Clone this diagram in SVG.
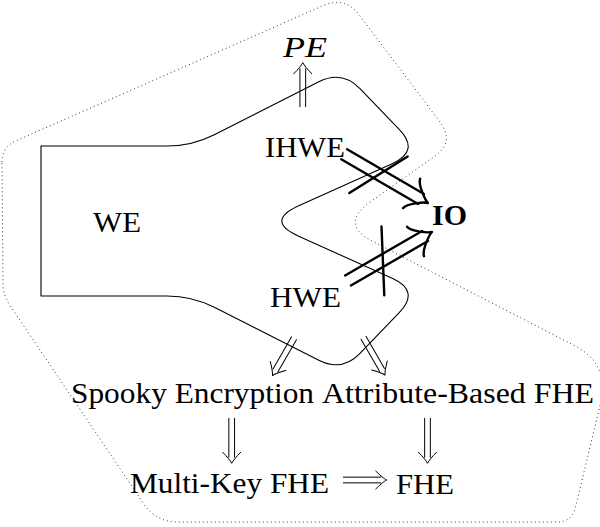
<svg xmlns="http://www.w3.org/2000/svg" width="600" height="527" viewBox="0 0 600 527">
<style>
.lbl{font-family:"Liberation Serif","DejaVu Serif",serif;font-size:29px;fill:#000}
.it{font-style:italic}
.bd{font-weight:bold}
.shape{fill:none;stroke:#000;stroke-width:1.1;stroke-linejoin:round}
.dots{fill:none;stroke:#222;stroke-width:1;stroke-dasharray:0.9 3.1;stroke-linecap:butt}
.thin{fill:none;stroke:#000;stroke-width:1;stroke-linecap:round;stroke-linejoin:round}
.thick{fill:none;stroke:#000;stroke-width:2.4;stroke-linecap:round;stroke-linejoin:round}
</style>
<defs>
<path id="imphead" class="thin" d="M -11,-9 Q -4,-2 0,0 Q -4,2 -11,9"/>
<g id="notarrow">
<path class="thick" d="M -97,-5.8 L -8,-5.8 M -97,5.8 L -8,5.8"/>
<path class="thick" d="M -19,-17 C -17.8,-10.6 -3.8,-1 0,0 C -3.8,1 -17.8,10.6 -19,17"/>
<path class="thick" d="M -73,31 L -41,-30"/>
</g>
</defs>

<path id="boundary" class="dots" d="M 2,162 Q 2,147 15.7,141 L 323,5.7 Q 345,-4 359.4,15.2 L 440,122 Q 455,142 434.6,156.4 L 370,202.1 Q 339,224 372.7,241.4 L 574.5,345.6 Q 610,364 600.6,402.9 L 575.5,507.4 Q 572,522 557,522 L 178,522 Q 156,522 143.7,503.8 L 9.7,305 Q 3,295 3,283 Z"/>

<g id="WE">
<path class="shape" d="M 41,146 L 167,146 Q 192,146 214.3,134.7 L 318.8,81.8 Q 342,70 360,88.7 L 399.2,129.4 Q 420,151 392.7,163.4 L 298.7,205.8 Q 265,221 298.7,236.2 L 392.7,278.6 Q 420,291 399.2,312.6 L 360,353.3 Q 342,372 318.8,360.2 L 214.3,307.3 Q 192,296 167,296 L 41,296 Z"/>
<text class="lbl" x="93" y="232" textLength="48" lengthAdjust="spacingAndGlyphs">WE</text>
</g>
<g id="PE"><text class="lbl it" x="283" y="57" textLength="44" lengthAdjust="spacingAndGlyphs">PE</text></g>
<g id="IHWE"><text class="lbl" x="265" y="157" textLength="80" lengthAdjust="spacingAndGlyphs">IHWE</text></g>
<g id="HWE"><text class="lbl" x="270" y="307" textLength="71" lengthAdjust="spacingAndGlyphs">HWE</text></g>
<g id="IO"><text class="lbl bd" x="432" y="225" textLength="35" lengthAdjust="spacingAndGlyphs">IO</text></g>
<g id="Spooky"><text class="lbl" x="71" y="403" textLength="243" lengthAdjust="spacingAndGlyphs">Spooky Encryption</text></g>
<g id="ABFHE"><text class="lbl" x="322" y="403" textLength="272" lengthAdjust="spacingAndGlyphs">Attribute-Based FHE</text></g>
<g id="MKFHE"><text class="lbl" x="130" y="493" textLength="199" lengthAdjust="spacingAndGlyphs">Multi-Key FHE</text></g>
<g id="FHE"><text class="lbl" x="396" y="494" textLength="58" lengthAdjust="spacingAndGlyphs">FHE</text></g>

<g id="connectors">
<g transform="translate(302.8,62.7) rotate(-90)"><path class="thin" d="M -44,-2.85 H -6 M -44,2.85 H -6"/><use href="#imphead"/></g>
<g transform="translate(272.5,375.5) rotate(120)"><path class="thin" d="M -43,-2.85 H -6 M -43,2.85 H -6"/><use href="#imphead"/></g>
<g transform="translate(385,375) rotate(60)"><path class="thin" d="M -43,-2.85 H -6 M -43,2.85 H -6"/><use href="#imphead"/></g>
<g transform="translate(231.7,463.3) rotate(90)"><path class="thin" d="M -45,-2.85 H -6 M -45,2.85 H -6"/><use href="#imphead"/></g>
<g transform="translate(427.5,463.3) rotate(90)"><path class="thin" d="M -45,-2.85 H -6 M -45,2.85 H -6"/><use href="#imphead"/></g>
<g transform="translate(386.7,480)"><path class="thin" d="M -43.4,-2.85 H -6 M -43.4,2.85 H -6"/><use href="#imphead"/></g>
<g transform="translate(428,203) rotate(30.2)"><use href="#notarrow"/></g>
<g transform="translate(432,232) rotate(-30)"><use href="#notarrow"/></g>
</g>
</svg>
